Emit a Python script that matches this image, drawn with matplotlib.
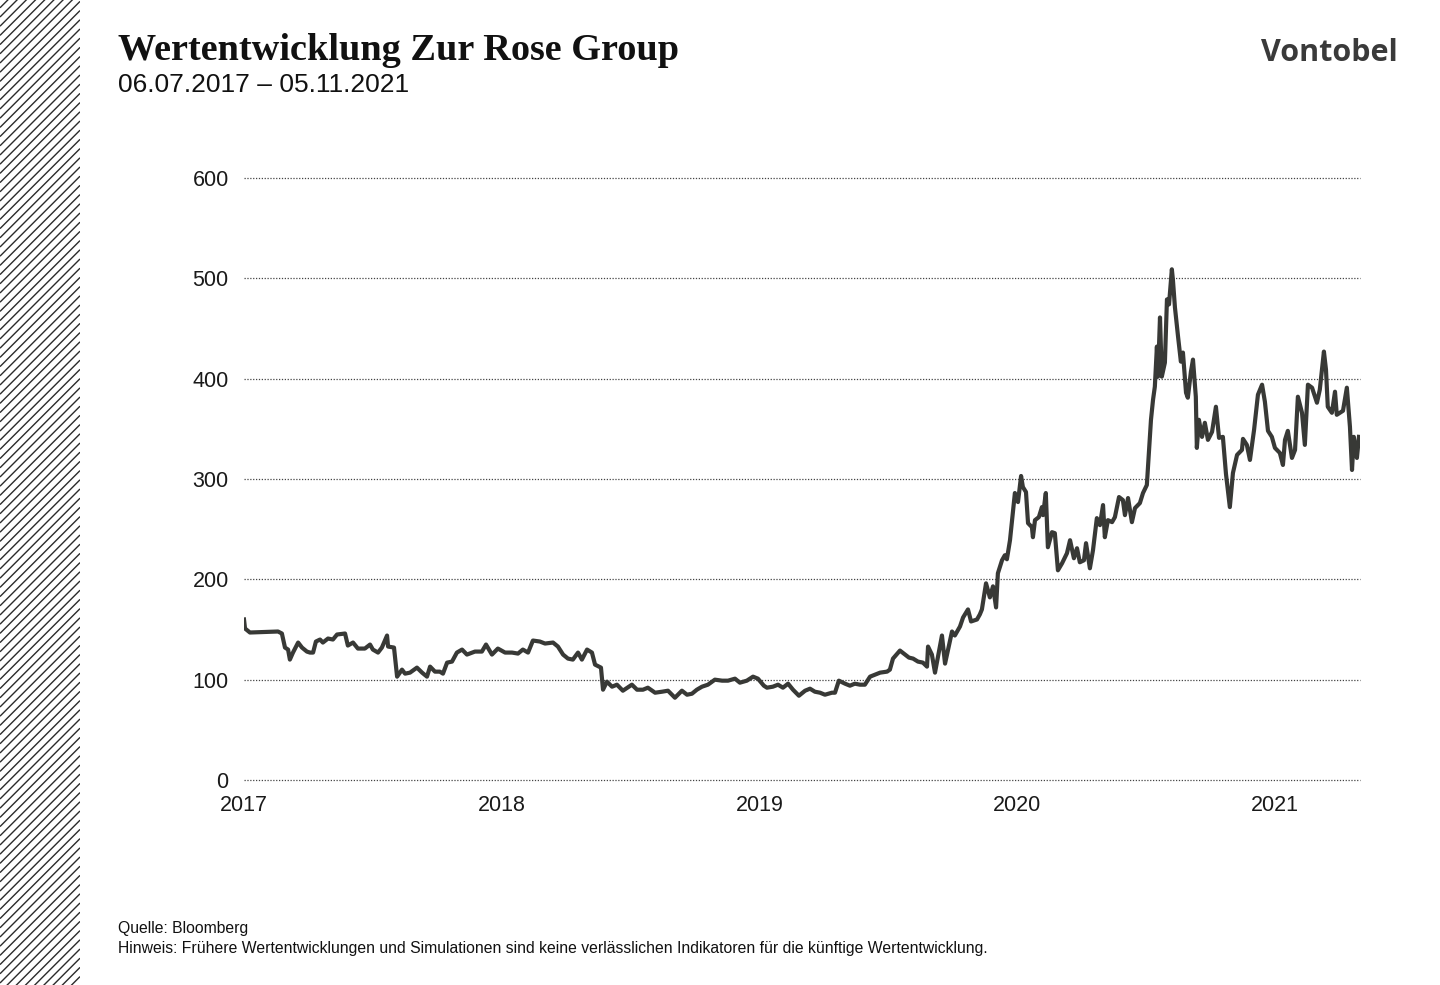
import numpy as np
import matplotlib
matplotlib.use("Agg")
import matplotlib.pyplot as plt

# Zur Rose share price, x in years since 06.07.2017
years = [0.000, 0.004, 0.023, 0.132, 0.147, 0.159, 0.171, 0.178, 0.190, 0.210,
         0.225, 0.244, 0.256, 0.268, 0.279, 0.295, 0.306, 0.326, 0.345, 0.361,
         0.392, 0.403, 0.423, 0.442, 0.469, 0.489, 0.500, 0.520, 0.535, 0.555,
         0.559, 0.582, 0.594, 0.613, 0.625, 0.644, 0.671, 0.691, 0.710, 0.722,
         0.741, 0.760, 0.772, 0.788, 0.807, 0.826, 0.846, 0.865, 0.896, 0.923,
         0.939, 0.962, 0.985, 1.013, 1.040, 1.063, 1.082, 1.102, 1.121, 1.148,
         1.168, 1.199, 1.218, 1.238, 1.257, 1.276, 1.296, 1.311, 1.331, 1.350,
         1.362, 1.385, 1.393, 1.408, 1.428, 1.447, 1.470, 1.505, 1.525, 1.548,
         1.567, 1.595, 1.622, 1.645, 1.672, 1.699, 1.719, 1.738, 1.757, 1.777,
         1.800, 1.827, 1.855, 1.878, 1.905, 1.924, 1.951, 1.975, 1.994, 2.017,
         2.029, 2.052, 2.072, 2.091, 2.111, 2.130, 2.153, 2.177, 2.196, 2.215,
         2.235, 2.254, 2.281, 2.293, 2.308, 2.332, 2.351, 2.370, 2.390, 2.409,
         2.429, 2.448, 2.468, 2.495, 2.506, 2.518, 2.545, 2.565, 2.580, 2.596,
         2.615, 2.634, 2.650, 2.654, 2.669, 2.681, 2.708, 2.720, 2.747, 2.758,
         2.778, 2.790, 2.809, 2.821, 2.844, 2.855, 2.863, 2.879, 2.894, 2.906,
         2.918, 2.925, 2.941, 2.952, 2.960, 2.972, 2.980, 2.991, 3.003, 3.015,
         3.022, 3.034, 3.042, 3.057, 3.061, 3.069, 3.084, 3.096, 3.100, 3.111,
         3.119, 3.135, 3.146, 3.158, 3.174, 3.193, 3.205, 3.220, 3.232, 3.243,
         3.259, 3.267, 3.282, 3.294, 3.309, 3.321, 3.333, 3.340, 3.352, 3.368,
         3.379, 3.395, 3.410, 3.418, 3.430, 3.445, 3.457, 3.476, 3.488, 3.503,
         3.511, 3.519, 3.527, 3.534, 3.542, 3.546, 3.554, 3.561, 3.573, 3.581,
         3.589, 3.600, 3.604, 3.612, 3.624, 3.635, 3.643, 3.655, 3.662, 3.674,
         3.682, 3.693, 3.697, 3.705, 3.717, 3.728, 3.740, 3.756, 3.771, 3.783,
         3.798, 3.810, 3.825, 3.837, 3.853, 3.872, 3.876, 3.891, 3.903, 3.919,
         3.934, 3.950, 3.961, 3.973, 3.988, 4.000, 4.019, 4.031, 4.039, 4.050,
         4.066, 4.078, 4.089, 4.105, 4.116, 4.128, 4.144, 4.163, 4.174, 4.190,
         4.198, 4.205, 4.221, 4.233, 4.240, 4.252, 4.264, 4.279, 4.291, 4.299,
         4.306, 4.318, 4.326]
price = [160, 151, 147, 148, 146, 132, 130, 120, 127, 137,
         132, 128, 127, 127, 138, 140, 137, 141, 140, 145,
         146, 134, 137, 131, 131, 135, 130, 127, 132, 144,
         133, 132, 103, 110, 106, 107, 112, 107, 103, 113,
         108, 108, 106, 117, 118, 127, 130, 125, 128, 128,
         135, 125, 131, 127, 127, 126, 130, 127, 139, 138,
         136, 137, 133, 125, 121, 120, 127, 120, 130, 127,
         115, 112, 90, 98, 93, 95, 89, 95, 90, 90,
         92, 87, 88, 89, 82, 89, 85, 86, 90, 93,
         95, 100, 99, 99, 101, 97, 99, 103, 101, 94,
         92, 93, 95, 92, 96, 90, 84, 89, 91, 88,
         87, 85, 87, 87, 99, 96, 94, 96, 95, 95,
         103, 105, 107, 108, 110, 121, 129, 125, 122, 121,
         118, 117, 113, 133, 125, 107, 144, 116, 148, 144,
         153, 162, 170, 158, 160, 165, 170, 196, 182, 193,
         172, 206, 219, 224, 220, 239, 259, 286, 277, 303,
         292, 287, 256, 252, 242, 259, 262, 272, 264, 286,
         232, 247, 246, 209, 216, 226, 239, 221, 231, 217,
         219, 236, 211, 229, 261, 254, 274, 242, 259, 257,
         262, 282, 279, 264, 281, 257, 271, 276, 286, 294,
         326, 359, 379, 392, 432, 402, 461, 402, 416, 479,
         474, 509, 499, 471, 442, 417, 426, 386, 381, 407,
         419, 382, 331, 359, 342, 356, 339, 347, 372, 341,
         342, 305, 272, 306, 324, 329, 340, 334, 319, 349,
         384, 394, 377, 348, 342, 331, 326, 314, 339, 348,
         321, 329, 382, 366, 334, 394, 391, 376, 389, 427,
         409, 372, 366, 387, 364, 366, 368, 391, 352, 309,
         342, 321, 342]

tick_years = [0, 1, 2, 3, 4]
tick_labels = ["2017", "2018", "2019", "2020", "2021"]
y_ticks = [0, 100, 200, 300, 400, 500, 600]

line_color = "#383936"
text_color = "#1a1a1a"
sans = ["Liberation Sans", "DejaVu Sans"]

fig = plt.figure(figsize=(14.4, 9.85), dpi=100)

# hatched strip on the left edge
hatch = fig.add_axes([0, 0, 80 / 1440, 1])
hatch.set_xlim(0, 80)
hatch.set_ylim(0, 985)
hatch.axis("off")
for c in np.arange(-90, 990, 9.2):
    hatch.plot([0, 80], [c, c + 80], color="#2b2b2b", lw=1.0, solid_capstyle="butt")

ax = fig.add_axes([244 / 1440, 1 - 780 / 985, (1360 - 244) / 1440, (780 - 178) / 985])
ax.plot(years, price, color=line_color, lw=3.0, solid_joinstyle="round")
ax.set_xlim(0, 4.33)
ax.set_ylim(0, 600)
ax.set_yticks(y_ticks)
ax.set_xticks(tick_years)
ax.set_xticklabels(tick_labels)
ax.grid(axis="y", linestyle=(0, (1, 1.3)), color="#444444", lw=0.9)
for gl in ax.get_ygridlines():
    gl.set_clip_on(False)
ax.set_axisbelow(True)
for s in ax.spines.values():
    s.set_visible(False)
ax.tick_params(length=0, labelsize=15.5, labelcolor=text_color)
ax.tick_params(axis="y", pad=11)
ax.tick_params(axis="x", pad=11)
for lab in ax.get_xticklabels() + ax.get_yticklabels():
    lab.set_family(sans)

fig.text(118 / 1440, 1 - 60 / 985, "Wertentwicklung Zur Rose Group",
         family=["Liberation Serif", "DejaVu Serif"], weight="bold",
         fontsize=27.5, color="#111111", va="baseline")
fig.text(118 / 1440, 1 - 92 / 985, "06.07.2017 \u2013 05.11.2021",
         family=sans, fontsize=19, color="#111111", va="baseline")
fig.text(1398 / 1440, 1 - 61 / 985, "Vontobel",
         family=["Open Sans", "DejaVu Sans"], weight="bold",
         fontsize=22, color="#3a3a3a", va="baseline", ha="right")

fig.text(118 / 1440, 1 - 933 / 985, "Quelle: Bloomberg",
         family=sans, fontsize=11.3, color="#111111", va="baseline")
fig.text(118 / 1440, 1 - 953 / 985,
         "Hinweis: Fr\u00fchere Wertentwicklungen und Simulationen sind keine "
         "verl\u00e4sslichen Indikatoren f\u00fcr die k\u00fcnftige Wertentwicklung.",
         family=sans, fontsize=11.3, color="#111111", va="baseline")

fig.savefig("out.png", dpi=100)
